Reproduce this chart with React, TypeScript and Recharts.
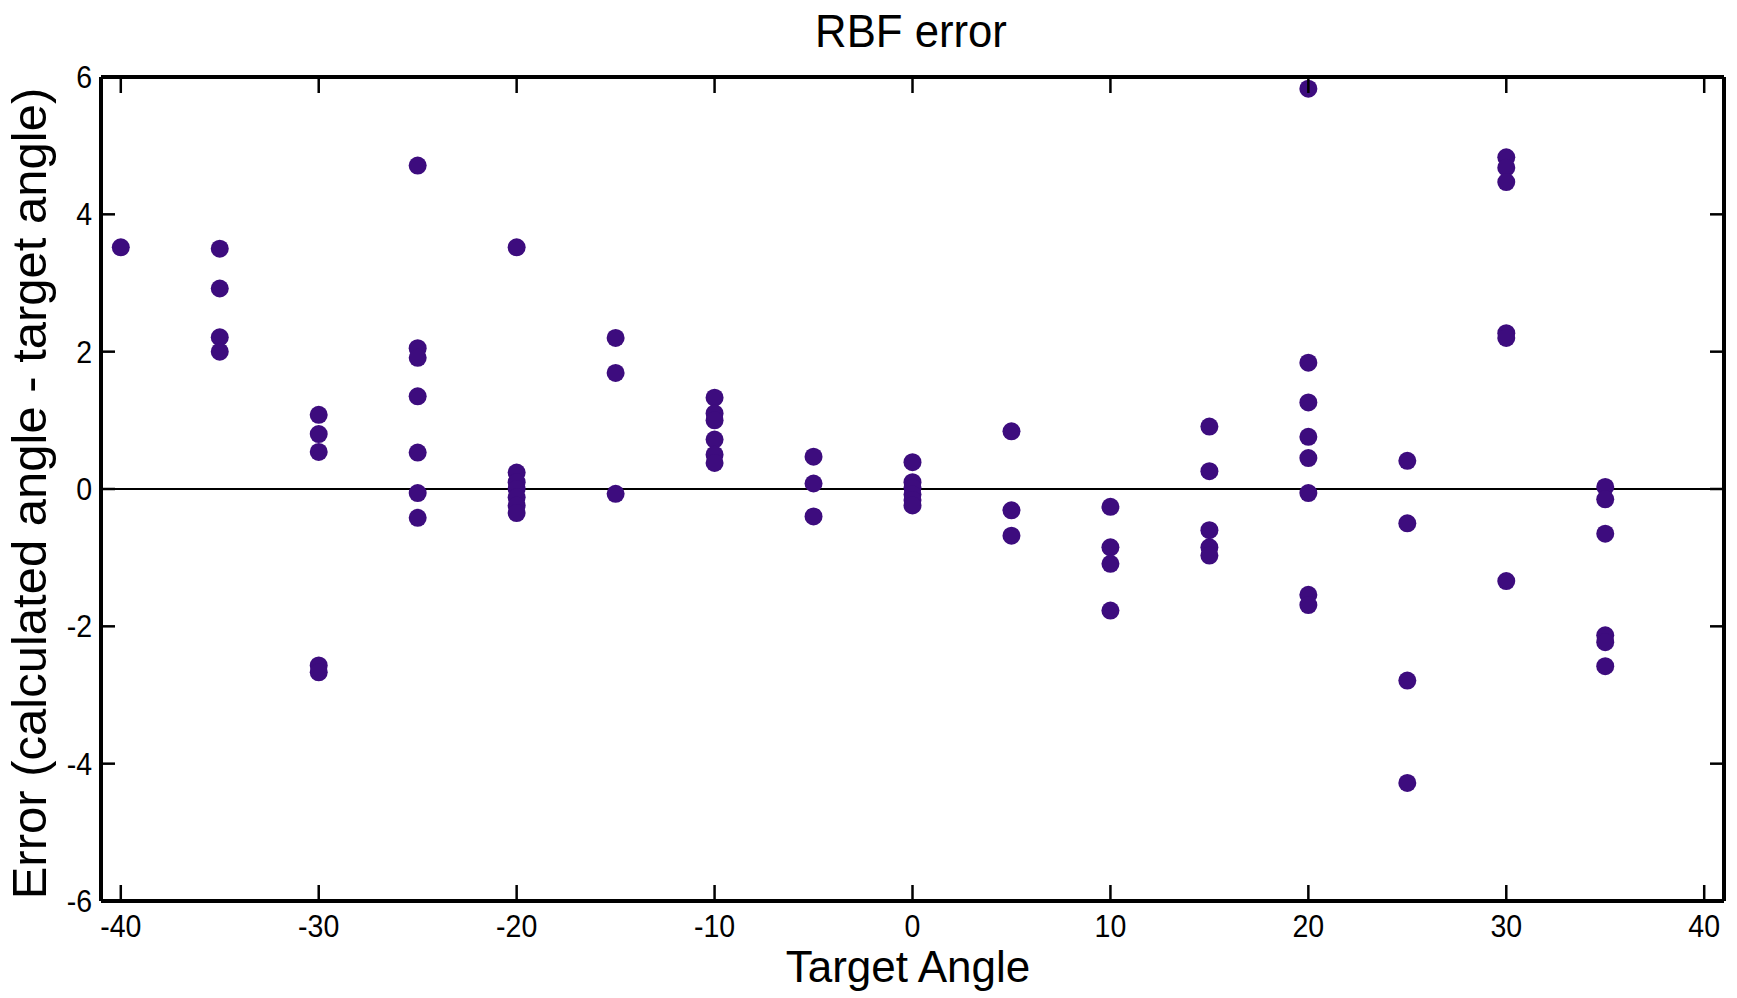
import { ReferenceLine, Scatter, ScatterChart, XAxis, YAxis } from "recharts";

const FONT = "'Liberation Sans', Arial, Helvetica, sans-serif";
const DOT = "#3d0c7e";

const xTicks = [-40, -30, -20, -10, 0, 10, 20, 30, 40];
const yTicks = [-6, -4, -2, 0, 2, 4, 6];

// errors read per target angle
const targetAngles = [-40, -35, -30, -25, -20, -15, -10, -5, 0, 5, 10, 15, 20, 25, 30, 35];
const errNeg40 = [3.52];
const errNeg35 = [3.5, 2.92, 2.21, 2.0];
const errNeg30 = [1.08, 0.8, 0.54, -2.57, -2.67];
const errNeg25 = [4.71, 2.05, 1.91, 1.35, 0.53, -0.06, -0.42];
const errNeg20 = [3.52, 0.24, 0.1, 0.0, -0.12, -0.24, -0.35];
const errNeg15 = [2.2, 1.69, -0.07];
const errNeg10 = [1.33, 1.1, 1.0, 0.72, 0.5, 0.38];
const errNeg5 = [0.47, 0.08, -0.4];
const err0 = [0.39, 0.1, 0.02, -0.08, -0.16, -0.24];
const err5 = [0.84, -0.31, -0.68];
const err10 = [-0.26, -0.85, -1.09, -1.77];
const err15 = [0.91, 0.26, -0.6, -0.85, -0.97];
const err20 = [5.83, 1.84, 1.26, 0.76, 0.45, -0.06, -1.54, -1.69];
const err25 = [0.41, -0.5, -2.79, -4.28];
const err30 = [4.83, 4.68, 4.47, 2.27, 2.2, -1.34];
const err35 = [0.03, -0.15, -0.65, -2.13, -2.23, -2.58];

const errors = [
  errNeg40, errNeg35, errNeg30, errNeg25, errNeg20, errNeg15, errNeg10, errNeg5,
  err0, err5, err10, err15, err20, err25, err30, err35,
];

const points = targetAngles.flatMap((x, i) => errors[i].map((y) => ({ x, y })));

const axisLine = { stroke: "#000", strokeWidth: 4 };
const tickLine = { stroke: "#000", strokeWidth: 2.5 };
const X_GAP = 14; // axis line -> x label top
const Y_GAP = 9; // axis line -> y label right edge

// matlab style: ticks drawn inside the box, narrow labels outside
function BottomTick(props: any) {
  const { x, y, payload } = props;
  return (
    <g transform={`translate(${x},${y})`}>
      <line x1={0} x2={0} y1={-X_GAP} y2={-X_GAP - 16} {...tickLine} />
      <text transform="scale(0.92,1)" dy="0.71em" textAnchor="middle" fill="#000" fontSize={31} fontFamily={FONT}>
        {payload.value}
      </text>
    </g>
  );
}

function LeftTick(props: any) {
  const { x, y, payload } = props;
  return (
    <g transform={`translate(${x},${y})`}>
      <line x1={Y_GAP} x2={Y_GAP + 14} y1={0} y2={0} {...tickLine} />
      <text transform="scale(0.92,1)" dy="0.355em" textAnchor="end" fill="#000" fontSize={31} fontFamily={FONT}>
        {payload.value}
      </text>
    </g>
  );
}

function TopTick(props: any) {
  const { x, y } = props;
  return <line x1={x} x2={x} y1={y} y2={y + 16} {...tickLine} />;
}

const NoLabel = () => <g />;

export default function App() {
  return (
    <div style={{ position: "absolute", left: 0, top: 0, width: 1737, height: 998, background: "#fff" }}>
      <ScatterChart width={1737} height={998} margin={{ top: 76, right: 13, bottom: 0, left: 0 }}>
        <XAxis
          type="number"
          dataKey="x"
          domain={[-41, 41]}
          ticks={xTicks}
          interval={0}
          height={97}
          tickSize={0}
          tickMargin={X_GAP}
          axisLine={axisLine}
          tickLine={false}
          tick={BottomTick}
          allowDataOverflow
        />
        <XAxis
          xAxisId="top"
          orientation="top"
          type="number"
          dataKey="x"
          domain={[-41, 41]}
          ticks={xTicks}
          interval={0}
          height={1}
          tickSize={0}
          tickMargin={0}
          axisLine={axisLine}
          tickLine={false}
          tick={TopTick}
          allowDataOverflow
        />
        <YAxis
          type="number"
          dataKey="y"
          domain={[-6, 6]}
          ticks={yTicks}
          interval={0}
          width={101}
          tickSize={0}
          tickMargin={Y_GAP}
          axisLine={axisLine}
          tickLine={false}
          tick={LeftTick}
          allowDataOverflow
        />
        <YAxis
          yAxisId="right"
          orientation="right"
          mirror
          type="number"
          dataKey="y"
          domain={[-6, 6]}
          ticks={yTicks}
          interval={0}
          width={14}
          tickSize={14}
          axisLine={axisLine}
          tickLine={tickLine}
          tick={NoLabel}
          allowDataOverflow
        />
        <ReferenceLine y={0} stroke="#000" strokeWidth={2} />
        {/* same points on the box axes so their ticks get built; draws nothing */}
        <Scatter
          xAxisId="top"
          yAxisId="right"
          data={points}
          isAnimationActive={false}
          legendType="none"
          shape={NoLabel}
        />
        <Scatter
          data={points}
          fill={DOT}
          isAnimationActive={false}
          shape={(p: any) => <circle cx={p.cx} cy={p.cy} r={9} fill={DOT} />}
        />
      </ScatterChart>

      <div
        style={{
          position: "absolute", left: 911 - 500, top: 7, width: 1000, textAlign: "center",
          fontFamily: FONT, fontSize: 47, lineHeight: 1, color: "#000", transform: "scaleX(0.93)",
        }}
      >
        RBF error
      </div>
      <div
        style={{
          position: "absolute", left: 908 - 500, top: 945, width: 1000, textAlign: "center",
          fontFamily: FONT, fontSize: 44, lineHeight: 1, color: "#000",
        }}
      >
        Target Angle
      </div>
      <div
        style={{
          position: "absolute", left: 29 - 450, top: 494 - 25, width: 900, height: 49,
          textAlign: "center", fontFamily: FONT, fontSize: 49, lineHeight: "49px", color: "#000",
          transform: "rotate(-90deg)", whiteSpace: "nowrap",
        }}
      >
        Error (calculated angle - target angle)
      </div>
    </div>
  );
}
